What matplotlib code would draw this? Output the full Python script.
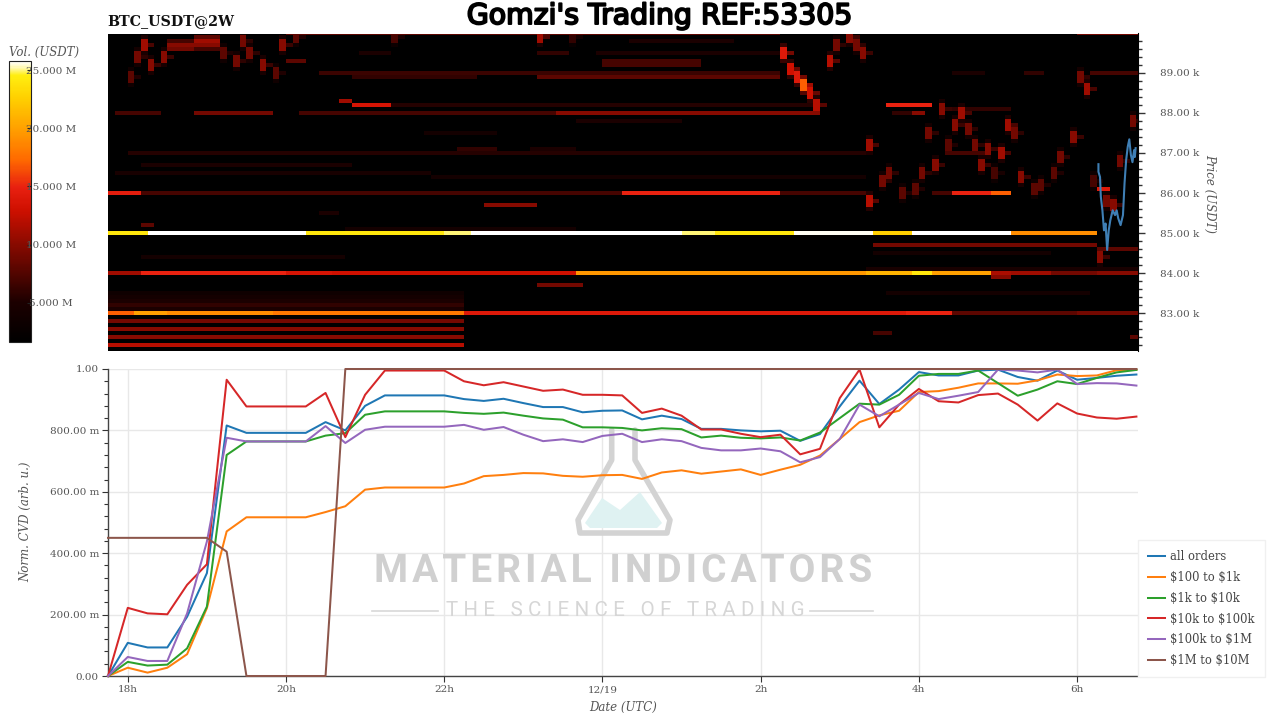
import numpy as np
import matplotlib
matplotlib.use('Agg')
import matplotlib.pyplot as plt
import matplotlib.patheffects as pe
from matplotlib.colors import LinearSegmentedColormap, Normalize
from matplotlib.patches import Polygon
from matplotlib.lines import Line2D
from matplotlib.ticker import MultipleLocator
from matplotlib.transforms import Affine2D

# hours are counted from 18:00 UTC
tick_hours = [0, 2, 4, 6, 8, 10, 12]
tick_names = ['18h', '20h', '22h', '12/19', '2h', '4h', '6h']
cvd_hours = [-0.25, 0, 0.25, 0.5, 0.75, 1, 1.25, 1.5, 1.75, 2, 2.25, 2.5, 2.75, 3, 3.25, 3.5, 3.75, 4,
             4.25, 4.5, 4.75, 5, 5.25, 5.5, 5.75, 6, 6.25, 6.5, 6.75, 7, 7.25, 7.5, 7.75, 8, 8.25, 8.5,
             8.75, 9, 9.25, 9.5, 9.75, 10, 10.25, 10.5, 10.75, 11, 11.25, 11.5, 11.75, 12, 12.25, 12.5, 12.75]

all_orders = [0, .108, .093, .093, .193, .335, .816, .792, .792, .792, .792, .827, .80, .88, .914, .914, .914, .914, .902, .896,
              .903, .889, .876, .876, .859, .864, .865, .836, .848, .837, .805, .805, .80, .797, .799, .766, .788, .878, .962,
              .886, .933, .99, .979, .979, .995, .998, .974, .962, .995, .965, .971, .978, .982]
to_1k = [0, .027, .011, .027, .071, .221, .471, .517, .517, .517, .517, .534, .553, .607, .614, .614, .614, .614, .627, .651,
         .655, .661, .66, .652, .649, .654, .655, .642, .663, .67, .659, .666, .673, .655, .672, .688, .718, .772, .827,
         .849, .864, .925, .928, .939, .953, .953, .952, .963, .982, .977, .979, .996, .998]
to_10k = [0, .046, .034, .037, .09, .226, .72, .764, .764, .764, .764, .783, .791, .851, .862, .862, .862, .862, .857, .854,
          .858, .848, .839, .835, .81, .81, .808, .80, .807, .804, .777, .783, .776, .774, .777, .767, .793, .84, .887,
          .884, .916, .978, .984, .984, .995, .954, .913, .933, .96, .951, .971, .989, .997]
to_100k = [0, .222, .204, .201, .297, .364, .965, .878, .878, .878, .878, .922, .778, .916, .995, .995, .995, .995, .96, .947,
           .957, .943, .929, .933, .916, .916, .914, .857, .871, .848, .803, .803, .789, .778, .786, .722, .74, .905, .998,
           .81, .884, .935, .895, .891, .915, .92, .884, .832, .888, .855, .842, .838, .845]
to_1m = [0, .062, .049, .049, .204, .438, .776, .764, .764, .764, .764, .814, .759, .802, .812, .812, .812, .812, .818, .802,
         .811, .786, .765, .771, .762, .782, .789, .762, .771, .765, .743, .735, .735, .741, .732, .696, .713, .772, .884,
         .846, .884, .922, .902, .913, .925, .998, .995, .989, .998, .951, .954, .953, .946]
to_10m = [.45, .45, .45, .45, .45, .45, .405, 0, 0, 0, 0, 0] + [1.0] * 41
series_names = ['all orders', '\\$100 to \\$1k', '\\$1k to \\$10k', '\\$10k to \\$100k', '\\$100k to \\$1M', '\\$1M to \\$10M']
series_colors = ['#1f77b4', '#ff7f0e', '#2ca02c', '#d62728', '#9467bd', '#8c564b']

price_hours = [12.27, 12.27, 12.29, 12.30, 12.32, 12.34, 12.36, 12.38, 12.40, 12.42, 12.45, 12.48, 12.50, 12.52,
               12.55, 12.58, 12.60, 12.62, 12.64, 12.66, 12.68, 12.70, 12.72, 12.73, 12.74]
price_k = [86.72, 86.53, 86.40, 85.91, 85.57, 85.07, 85.24, 84.58, 85.07, 85.32, 85.57, 85.45, 85.57, 85.37,
           85.2, 85.45, 86.25, 86.82, 87.15, 87.34, 86.95, 86.77, 87.07, 86.9, 87.12]

# resting order walls: price (k), from hour, to hour, volume (M)
bands = [
    (85.0, -.25, .2, 24), (85.0, .2, 2.2, 25.8), (85.0, 2.2, 3.93, 24), (85.0, 3.93, 4.29, 25), (85.0, 4.29, 6.99, 25.8),
    (85.0, 6.99, 7.37, 25), (85.0, 7.37, 8.36, 24), (85.0, 8.36, 9.37, 25.6), (85.0, 9.37, 9.84, 22.5),
    (85.0, 9.84, 11.14, 25.8), (85.0, 11.14, 12.23, 19),
    (84.0, -.25, .11, 11), (84.0, .11, 1.95, 15), (84.0, 1.95, 2.56, 13.5), (84.0, 2.56, 5.6, 13), (84.0, 5.6, 9.3, 19.5),
    (84.0, 9.3, 9.84, 21), (84.0, 9.84, 10.15, 24), (84.0, 10.15, 10.85, 20), (84.0, 10.85, 11.14, 11.5),
    (83.9, 10.85, 11.14, 10), (84.0, 11.14, 11.6, 11), (84.0, 11.6, 12.23, 9), (84.0, 12.23, 12.78, 10), (84.1, 9.3, 12.78, 4.5),
    (83.0, -.25, .03, 17), (83.0, .03, .42, 20), (83.0, .42, 1.81, 19), (83.0, 1.81, 4.21, 18), (83.0, 4.21, 9.82, 14),
    (83.0, 9.82, 10.38, 15), (83.0, 10.38, 12.0, 8), (83.0, 12.0, 12.78, 9),
    (82.8, -.25, 4.21, 9), (82.6, -.25, 4.21, 10), (82.4, -.25, 4.21, 10), (82.2, -.25, 4.21, 12),
    (83.5, -.25, 4.21, 3.5), (83.4, -.25, 4.21, 4), (83.3, -.25, 4.21, 5), (83.2, -.25, 4.21, 6), (83.1, -.25, 4.21, 5),
    (86.0, -.25, .13, 14.5), (86.0, .13, 6.22, 7), (86.0, 6.22, 8.23, 15), (86.0, 8.23, 9.3, 7), (86.0, 10.09, 10.39, 7),
    (86.0, 10.39, 11.14, 15), (86.0, 10.85, 11.14, 17),
    (88.0, -.22, .34, 7), (88.0, .81, 1.81, 9), (88.0, 2.15, 5.37, 7), (88.0, 5.37, 8.7, 10), (88.0, 9.62, 10.06, 6), (88.0, 9.85, 10.06, 10),
    (88.3, 2.59, 2.82, 11), (88.2, 2.82, 3.28, 13.5), (88.2, 3.28, 8.7, 5.5), (88.2, 9.53, 10.15, 15),
    (89.0, 2.35, 8.23, 6.5), (88.9, 2.82, 4.37, 6), (88.9, 5.14, 8.23, 8), (89.0, 10.39, 10.76, 5), (89.0, 11.33, 11.53, 6), (89.0, 12.15, 12.78, 7),
    (87.0, -.02, 9.3, 5.5), (86.7, .14, 2.82, 5), (86.5, -.22, 3.8, 4.5), (86.4, 3.8, 9.3, 4), (85.7, 4.45, 5.13, 10),
    (83.7, 5.14, 5.75, 9), (85.5, 2.38, 2.59, 5), (85.2, .14, .28, 8), (85.1, 2.67, 5.66, 4), (84.4, .09, 2.72, 4),
    (87.1, 4.13, 4.6, 6), (87.1, 5.04, 5.6, 5), (87.5, 3.74, 4.65, 4), (87.8, 5.6, 7.0, 5), (89.5, 2.9, 3.28, 5),
    (89.5, 5.14, 5.52, 6), (89.5, 5.87, 8.23, 5), (89.3, 1.97, 2.2, 8), (89.3, 6.0, 7.22, 7), (89.2, 6.0, 7.22, 7), (89.8, 6.3, 7.66, 5),
    (87.0, 10.32, 10.76, 7), (88.1, 10.39, 11.14, 6), (84.7, 9.39, 12.23, 9), (84.5, 9.39, 11.63, 4), (84.6, 12.23, 12.78, 8),
    (82.5, 9.37, 9.6, 7), (83.5, 9.52, 12.15, 4), (82.4, 12.6, 12.78, 8), (86.1, 12.23, 12.38, 14),
    (89.8, .5, .81, 7), (89.7, .5, .81, 10), (89.6, .5, .81, 9), (89.9, .81, 1.11, 8), (89.8, .81, 1.11, 11), (89.7, .81, 1.11, 10),
    (89.6, .81, 1.11, 7), (90.0, 2.0, 8.2, 8), (90.0, 12.0, 12.78, 9), (82.0, 0, 12.78, 8),
]
# price following blobs: hour, price (k), volume (M)
blobs = [
    (.24, 89.7, 11), (.16, 89.4, 9), (.32, 89.2, 10), (.42, 89.4, 10), (.04, 88.9, 8), (1.19, 89.5, 8), (1.35, 89.3, 9),
    (1.47, 89.8, 9), (1.57, 89.5, 9), (1.73, 89.2, 10), (1.85, 89.0, 8), (1.93, 89.7, 10), (2.16, 89.9, 8), (3.39, 89.9, 7),
    (5.17, 89.9, 11), (5.6, 89.9, 6),
    (8.33, 89.5, 14), (8.41, 89.1, 13), (8.48, 88.9, 14), (8.56, 88.7, 17), (8.64, 88.5, 13), (8.72, 88.2, 12), (8.84, 89.3, 12),
    (8.95, 89.7, 9), (9.11, 89.9, 10), (9.18, 89.7, 9), (9.26, 89.5, 10), (9.34, 87.2, 11), (9.41, 85.8, 12), (9.52, 86.3, 9),
    (9.63, 86.5, 9), (9.77, 86.0, 8), (9.92, 86.1, 8), (10.03, 86.5, 9), (10.19, 86.7, 10), (10.1, 87.5, 9), (10.27, 88.1, 10),
    (10.34, 87.2, 8), (10.42, 87.7, 10), (10.54, 88.0, 11), (10.64, 87.6, 9), (10.72, 87.2, 9), (10.81, 86.7, 10), (10.88, 87.1, 10),
    (10.96, 86.5, 7), (11.04, 87.0, 11), (11.1, 87.7, 11), (11.18, 87.5, 9), (11.26, 86.4, 10), (11.43, 86.1, 8), (11.55, 86.2, 8),
    (11.72, 86.5, 8), (11.81, 86.9, 9), (11.92, 87.4, 10), (12.04, 88.9, 9), (12.12, 88.6, 11), (12.19, 86.3, 7), (12.26, 84.4, 10),
    (12.58, 86.8, 9), (12.73, 87.8, 9), (12.45, 85.7, 10), (12.35, 85.8, 9),
]

vol_ticks = [5, 10, 15, 20, 25]
vol_names = ['5.000 M', '10.000 M', '15.000 M', '20.000 M', '25.000 M']
price_ticks = [83, 84, 85, 86, 87, 88, 89]
price_names = ['83.00 k', '84.00 k', '85.00 k', '86.00 k', '87.00 k', '88.00 k', '89.00 k']
cvd_ticks = [0, .2, .4, .6, .8, 1]
cvd_names = ['0.00', '200.00 m', '400.00 m', '600.00 m', '800.00 m', '1.00']

plt.rcParams['font.family'] = 'DejaVu Serif'
text_color = '#555555'
W, H = 1280, 720
fig = plt.figure(figsize=(12.8, 7.2), dpi=100)
px = Affine2D().scale(1, -1).translate(0, H)


def box(x0, y0, x1, y1):
    return [x0 / W, 1 - y1 / H, (x1 - x0) / W, (y1 - y0) / H]


# heatmap grid, 100 USD rows and 5 minute columns
row_edges = np.arange(81.95, 90.1, 0.1)
col_edges = np.arange(157 + 1) / 12 - 0.25
volume = np.zeros((len(row_edges) - 1, len(col_edges) - 1))
for price, t0, t1, vol in bands:
    r = int(round((price - 82.0) / 0.1))
    c0, c1 = np.searchsorted(col_edges, [t0, t1])
    volume[r, c0:c1] = vol
n_rows = volume.shape[0]
for t, price, vol in blobs:
    r = int(round((price - 82.0) / 0.1))
    c = int((t + 0.25) * 12)
    volume[r - 1:r + 2, c] = np.maximum(volume[r - 1:r + 2, c], vol)
    for rr in [r - 2, r + 2]:
        if rr < n_rows:
            volume[rr, c] = max(volume[rr, c], vol * 0.45)
    volume[r, c + 1] = max(volume[r, c + 1], vol * 0.65)

cmap = LinearSegmentedColormap.from_list('vol', [
    (0.0, '#000000'), (0.14, '#1c0000'), (0.35, '#8a0a00'), (0.47, '#cf1000'), (0.55, '#e82010'),
    (0.65, '#ff6a00'), (0.76, '#ffa000'), (0.87, '#ffd000'), (0.95, '#ffee10'), (0.985, '#fffbd0'), (1.0, '#ffffff')])

ax = fig.add_axes(box(108, 33.5, 1138, 351))
mesh = ax.pcolormesh(col_edges, row_edges, volume, cmap=cmap, norm=Normalize(1.64, 25.78), rasterized=True)
ax.plot(price_hours, price_k, color='#3f7fb5', lw=1.5)
ax.set_xlim(-0.25, 12.77)
ax.set_ylim(82.06, 89.98)
ax.set_xticks([])
ax.yaxis.tick_right()
ax.yaxis.set_label_position('right')
ax.set_yticks(price_ticks)
ax.set_yticklabels(price_names, fontsize=7.5, color=text_color)
ax.yaxis.set_minor_locator(MultipleLocator(0.2))
ax.tick_params(axis='y', which='major', length=5, width=1, color='#333333', pad=11)
ax.tick_params(axis='y', which='minor', length=3, width=1, color='#333333')
for s in ['left', 'top', 'bottom']:
    ax.spines[s].set_visible(False)
ax.spines['right'].set_linewidth(0.8)

cax = fig.add_axes(box(9, 61, 31, 342))
cb = fig.colorbar(mesh, cax=cax)
cb.set_ticks(vol_ticks)
cb.set_ticklabels(vol_names)
cb.ax.minorticks_off()
cb.ax.tick_params(length=3, width=0.8, direction='in', color='#222222', labelsize=7.5, labelcolor=text_color, pad=14.5)
for lab in cb.ax.get_yticklabels():
    lab.set_ha('center')
cb.outline.set_linewidth(0.8)
cb.outline.set_edgecolor('#222222')

fig.text(44.5 / W, 1 - 52 / H, 'Vol. (USDT)', style='italic', fontsize=8.5, color=text_color, ha='center', va='center')
fig.text(107 / W, 1 - 21 / H, 'BTC_USDT@2W', fontweight='bold', fontsize=10.3, color='#111111', ha='left', va='center')
fig.text(660 / W, 1 - 16 / H, "Gomzi's Trading REF:53305", family='DejaVu Sans', fontsize=20.4, color='black', ha='center', va='center',
         path_effects=[pe.withStroke(linewidth=1.4, foreground='black')])
fig.text(1210 / W, 1 - 193 / H, 'Price (USDT)', style='italic', fontsize=8.5, color=text_color, rotation=-90, ha='center', va='center')

# normalised cvd panel
ax2 = fig.add_axes(box(108, 369, 1138, 676))
for vals, name, col in zip([all_orders, to_1k, to_10k, to_100k, to_1m, to_10m], series_names, series_colors):
    ax2.plot(cvd_hours, vals, color=col, lw=1.45, label=name, clip_on=False, zorder=4)
ax2.set_xlim(-0.25, 12.77)
ax2.set_ylim(0, 1)
ax2.set_xticks(tick_hours)
ax2.set_xticklabels(tick_names, fontsize=7.5, color=text_color)
ax2.set_yticks(cvd_ticks)
ax2.set_yticklabels(cvd_names, fontsize=7.5, color=text_color)
ax2.yaxis.set_minor_locator(MultipleLocator(0.04))
ax2.grid(True, which='major', color='#e8e8e8', lw=1)
ax2.set_axisbelow(True)
ax2.tick_params(axis='both', which='major', length=4.5, width=0.8, color='#333333', pad=2)
ax2.tick_params(axis='y', which='minor', length=3, width=0.8, color='#333333')
for s in ['top', 'right']:
    ax2.spines[s].set_visible(False)
for s in ['left', 'bottom']:
    ax2.spines[s].set_color('#444444')
    ax2.spines[s].set_linewidth(1)
fig.text(623 / W, 1 - 707 / H, 'Date (UTC)', style='italic', fontsize=8.5, color=text_color, ha='center', va='center')
fig.text(26 / W, 1 - 522 / H, 'Norm. CVD (arb. u.)', style='italic', fontsize=8.5, color=text_color, rotation=90, ha='center', va='center')

leg = ax2.legend(loc='lower left', bbox_to_anchor=(1138 / W, 1 - 677 / H), bbox_transform=fig.transFigure, borderaxespad=0,
                 fontsize=8.3, labelcolor='#444444', frameon=True, fancybox=False, edgecolor='#f0f0f0', framealpha=1,
                 handlelength=1.45, handletextpad=0.5, labelspacing=0.68, borderpad=0.85)
leg.get_frame().set_linewidth(1)

# watermark
flask_fill = [(585, 523), (602, 498), (620, 510), (640, 492), (662, 523), (657, 528), (590, 528)]
flask_line = [(611.7, 430), (611.7, 460), (578, 520), (580, 533), (667, 533), (670, 520), (635, 460), (635, 430)]
ax2.add_patch(Polygon(flask_fill, closed=True, transform=px, facecolor='#dff2f2', edgecolor='none', zorder=1, clip_on=False))
ax2.add_line(Line2D(*zip(*flask_line), transform=px, color='#d3d3d3', lw=4, zorder=1, clip_on=False, solid_joinstyle='round', solid_capstyle='round'))
ax2.text(623.5, 571, '\u200a'.join('MATERIAL INDICATORS'), transform=px, family=['Roboto', 'DejaVu Sans'], fontweight='bold', fontsize=28,
         color='#d0d0d0', ha='center', va='center', zorder=1)
ax2.text(625, 611, '\u2005'.join('THE SCIENCE OF TRADING'), transform=px, family=['Roboto', 'DejaVu Sans'], fontsize=14.8,
         color='#d6d6d6', ha='center', va='center', zorder=1)
ax2.add_line(Line2D([372, 438], [611, 611], transform=px, color='#d8d8d8', lw=1.2, zorder=1, clip_on=False))
ax2.add_line(Line2D([810, 873], [611, 611], transform=px, color='#d8d8d8', lw=1.2, zorder=1, clip_on=False))

fig.savefig('out.png', dpi=100)
